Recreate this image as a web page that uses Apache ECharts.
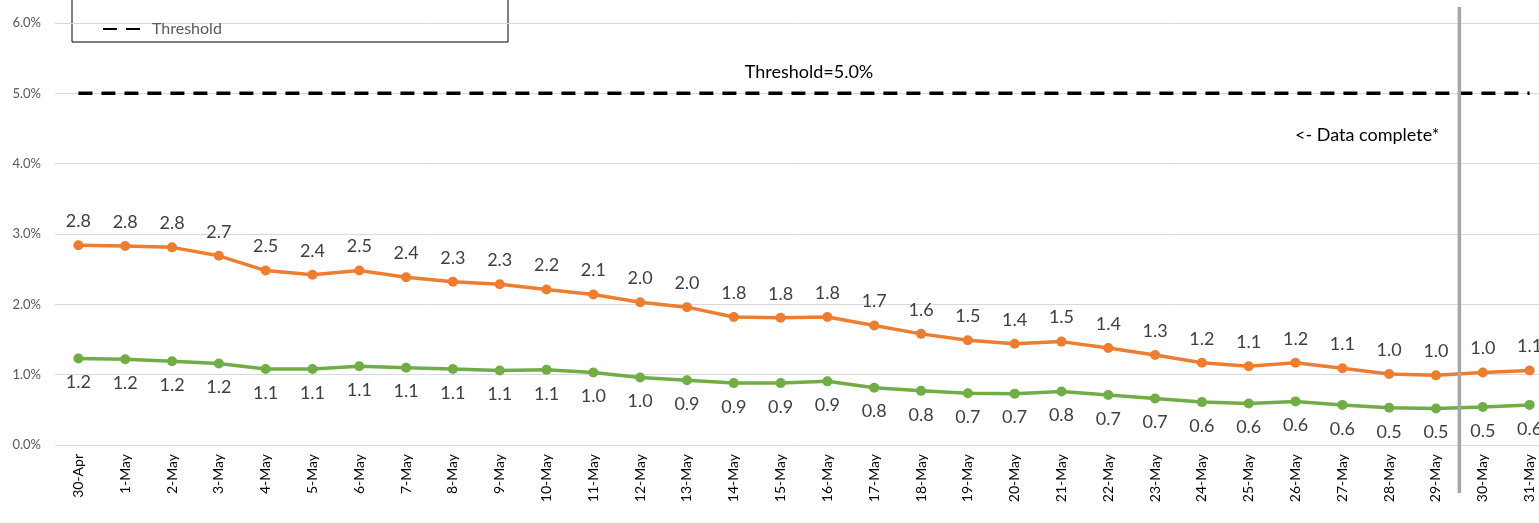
<!DOCTYPE html>
<html>
<head>
<meta charset="utf-8">
<script src="https://cdn.jsdelivr.net/npm/echarts@6/dist/echarts.min.js"></script>
<style>
html,body{margin:0;padding:0;background:#fff;}
#chart{width:1539px;height:523px;}
</style>
</head>
<body>
<div id="chart"></div>
<script>
const categories = ['30-Apr','1-May','2-May','3-May','4-May','5-May','6-May','7-May','8-May','9-May','10-May','11-May','12-May','13-May','14-May','15-May','16-May','17-May','18-May','19-May','20-May','21-May','22-May','23-May','24-May','25-May','26-May','27-May','28-May','29-May','30-May','31-May'];
const orangeValues = [2.84,2.83,2.81,2.69,2.48,2.42,2.48,2.385,2.32,2.285,2.21,2.14,2.03,1.96,1.82,1.81,1.82,1.70,1.58,1.49,1.44,1.47,1.38,1.28,1.17,1.12,1.17,1.09,1.01,0.99,1.03,1.06];
const greenValues = [1.23,1.22,1.19,1.16,1.08,1.08,1.12,1.10,1.08,1.06,1.07,1.03,0.96,0.92,0.88,0.88,0.905,0.815,0.77,0.735,0.73,0.76,0.71,0.66,0.61,0.59,0.62,0.57,0.53,0.52,0.54,0.57];
const thresholdValues = [5,5,5,5,5,5,5,5,5,5,5,5,5,5,5,5,5,5,5,5,5,5,5,5,5,5,5,5,5,5,5,5];
const thresholdLabel = 'Threshold=5.0%';
const completeLabel = '<- Data complete*';
const completeAfter = '29-May';
const completeBefore = '30-May';

const FONT = 'Lato, "Open Sans", sans-serif';
const chart = echarts.init(document.getElementById('chart'), null, {renderer:'canvas'});
const option = {
  backgroundColor:'#ffffff',
  animation:false,
  grid:{left:55, right:-14, top:23, bottom:78, containLabel:false, outerBoundsMode:'none'},
  legend:{
    data:[{name:'Threshold', itemStyle:{color:'rgba(0,0,0,0)', opacity:0, borderWidth:0}}],
    left:97, top:16, itemWidth:44, itemHeight:16, itemGap:10,
    textStyle:{fontFamily:FONT, fontSize:16, color:'#595959'}
  },
  xAxis:{
    type:'category', data:categories, boundaryGap:true,
    axisLine:{lineStyle:{color:'#d9d9d9', width:1}},
    axisTick:{show:false},
    axisLabel:{rotate:90, interval:0, margin:9, fontFamily:FONT, fontSize:14, color:'#000'}
  },
  yAxis:{
    type:'value', min:0, max:6, interval:1,
    axisLine:{show:false}, axisTick:{show:false},
    splitLine:{lineStyle:{color:'#d9d9d9', width:1}},
    axisLabel:{margin:14, fontFamily:FONT, fontSize:13, color:'#595959', formatter:v=>v.toFixed(1)+'%'}
  },
  series:[
    {
      name:'Orange', type:'line', data:orangeValues, symbol:'circle', symbolSize:10,
      lineStyle:{color:'#ED7D31', width:3.5}, itemStyle:{color:'#ED7D31'},
      label:{show:true, position:'top', distance:10, fontFamily:FONT, fontSize:18, color:'#404040', formatter:p=>p.value.toFixed(1)}
    },
    {
      name:'Green', type:'line', data:greenValues, symbol:'circle', symbolSize:10,
      lineStyle:{color:'#70AD47', width:3.5}, itemStyle:{color:'#70AD47'},
      label:{show:true, position:'bottom', distance:10, fontFamily:FONT, fontSize:18, color:'#404040', formatter:p=>p.value.toFixed(1)}
    },
    {
      name:'Threshold', type:'line', data:thresholdValues, symbol:'none', showSymbol:false,
      lineStyle:{color:'#000', width:3.5, type:[14,9]}, itemStyle:{color:'#000'}
    }
  ]
};
chart.setOption(option);

const xa = chart.convertToPixel({xAxisIndex:0}, completeAfter);
const xb = chart.convertToPixel({xAxisIndex:0}, completeBefore);
const lineX = (xa + xb) / 2;
const yTop = chart.convertToPixel({yAxisIndex:0}, 6) - 16;
const yBot = chart.convertToPixel({yAxisIndex:0}, 0) + 48;
const x15 = chart.convertToPixel({xAxisIndex:0}, '15-May');
const x16 = chart.convertToPixel({xAxisIndex:0}, '16-May');
const yThr = chart.convertToPixel({yAxisIndex:0}, 5);
const yComplete = chart.convertToPixel({yAxisIndex:0}, 4.4);

chart.setOption({
  graphic:[
    {type:'rect', shape:{x:72, y:-20, width:436, height:62}, style:{fill:'rgba(255,255,255,1)', stroke:'#000', lineWidth:1}, z:-1, silent:true},
    {type:'line', shape:{x1:lineX, y1:yTop, x2:lineX, y2:yBot}, style:{stroke:'#a6a6a6', lineWidth:3.5}, z:10},
    {type:'text', x:(x15+x16)/2+5, y:yThr-21, style:{text:thresholdLabel, font:'18px '+FONT, fill:'#000', align:'center', verticalAlign:'middle'}},
    {type:'text', x:lineX-20, y:yComplete, style:{text:completeLabel, font:'18px '+FONT, fill:'#000', align:'right', verticalAlign:'middle'}}
  ]
});
</script>
</body>
</html>
